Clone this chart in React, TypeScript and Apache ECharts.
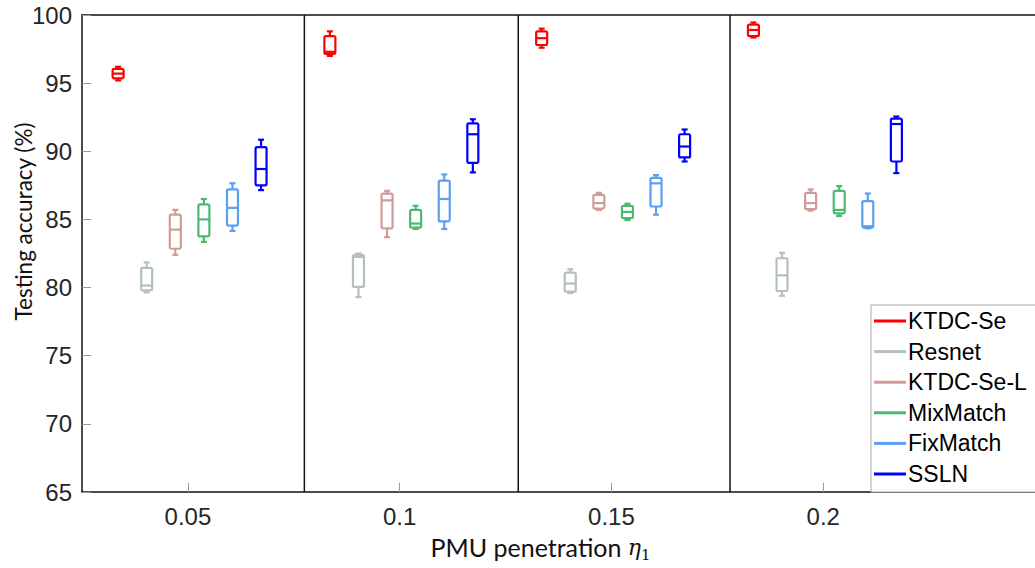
import React, { useEffect, useRef } from "react";
import * as echarts from "echarts";

// PMU penetration groups (x axis tick values)
const groups = [0.05, 0.1, 0.15, 0.2];
const yTicks = [65, 70, 75, 80, 85, 90, 95, 100];
const methods = ["KTDC-Se", "Resnet", "KTDC-Se-L", "MixMatch", "FixMatch", "SSLN"];
const colors = ["#ff0000", "#b3c1bd", "#cf9c9b", "#4cb870", "#5b9ff0", "#0000ff"];

// each entry: [min, q1, median, q3, max] per group
const ktdcSe = [
  [95.2, 95.35, 95.7, 96.05, 96.2],
  [97.0, 97.15, 97.3, 98.45, 98.8],
  [97.6, 97.8, 98.3, 98.8, 99.0],
  [98.35, 98.45, 98.9, 99.3, 99.45],
];
const resnet = [
  [79.65, 79.8, 80.15, 81.45, 81.85],
  [79.3, 80.05, 82.25, 82.4, 82.5],
  [79.6, 79.7, 80.3, 81.1, 81.35],
  [79.4, 79.75, 80.9, 82.15, 82.55],
];
const ktdcSeL = [
  [82.4, 82.85, 84.25, 85.35, 85.7],
  [83.7, 84.35, 86.4, 86.9, 87.1],
  [85.7, 85.8, 86.2, 86.8, 86.95],
  [85.65, 85.75, 86.2, 86.95, 87.2],
];
const mixMatch = [
  [83.35, 83.75, 85.0, 86.1, 86.5],
  [84.3, 84.4, 84.7, 85.7, 86.0],
  [84.95, 85.1, 85.55, 86.0, 86.15],
  [85.25, 85.45, 85.7, 87.1, 87.45],
];
const fixMatch = [
  [84.15, 84.55, 85.85, 87.2, 87.65],
  [84.3, 84.85, 86.5, 87.85, 88.3],
  [85.35, 85.95, 87.65, 88.05, 88.25],
  [84.35, 84.4, 84.5, 86.35, 86.9],
];
const ssln = [
  [87.15, 87.5, 88.7, 90.3, 90.85],
  [88.45, 89.15, 91.25, 92.05, 92.35],
  [89.25, 89.55, 90.35, 91.25, 91.6],
  [88.4, 89.25, 92.0, 92.4, 92.55],
];
const allStats = [ktdcSe, resnet, ktdcSeL, mixMatch, fixMatch, ssln];
// vertical separators between groups (x values)
const separators = [0.0775, 0.128, 0.178];

const X_MIN = 0.025;
const X_MAX = 0.25;
const Y_MIN = 65;
const Y_MAX = 100;

const slot = 0.00675; // spacing between methods within a group
const shift = 0.0004;

export default function App() {
  const ref = useRef<HTMLDivElement>(null);

  useEffect(() => {
    if (!ref.current) return;
    const chart = echarts.init(ref.current, undefined, { renderer: "svg" });

    const boxSeries = methods.map((name, i) => {
      const color = colors[i];
      const data = groups.map((g, j) => [g + (i - 2.5) * slot + shift, ...allStats[i][j]]);
      return {
        name,
        type: "custom",
        itemStyle: { color },
        data,
        encode: { x: 0, y: [1, 2, 3, 4, 5] },
        renderItem: (params: any, api: any) => {
          const x = api.value(0);
          const pMin = api.coord([x, api.value(1)]);
          const yQ1 = api.coord([x, api.value(2)])[1];
          const yMed = api.coord([x, api.value(3)])[1];
          const yQ3 = api.coord([x, api.value(4)])[1];
          const yMax = api.coord([x, api.value(5)])[1];
          const cx = pMin[0];
          const yMin = pMin[1];
          const hw = 5.5;
          const cw = 3;
          const lw = 2.2;
          const st = { stroke: color, lineWidth: lw, fill: "none" };
          return {
            type: "group",
            children: [
              { type: "line", shape: { x1: cx, y1: yMax, x2: cx, y2: yQ3 }, style: st },
              { type: "line", shape: { x1: cx, y1: yQ1, x2: cx, y2: yMin }, style: st },
              { type: "line", shape: { x1: cx - cw, y1: yMax, x2: cx + cw, y2: yMax }, style: st },
              { type: "line", shape: { x1: cx - cw, y1: yMin, x2: cx + cw, y2: yMin }, style: st },
              {
                type: "rect",
                shape: { x: cx - hw, y: yQ3, width: hw * 2, height: yQ1 - yQ3, r: 1.5 },
                style: st,
              },
              { type: "line", shape: { x1: cx - hw, y1: yMed, x2: cx + hw, y2: yMed }, style: st },
            ],
          };
        },
      };
    });

    const sepSeries = {
      name: "separators",
      type: "custom",
      silent: true,
      data: separators.map((s) => [s]),
      encode: { x: 0 },
      renderItem: (params: any, api: any) => {
        const x = api.value(0);
        const top = api.coord([x, Y_MAX]);
        const bottom = api.coord([x, Y_MIN]);
        return {
          type: "line",
          shape: { x1: top[0], y1: top[1], x2: bottom[0], y2: bottom[1] },
          style: { stroke: "#111", lineWidth: 1.5 },
        };
      },
    };

    const labelStyle = {
      fontFamily: "Liberation Sans",
      fontSize: 24,
      color: "#262626",
    };

    chart.setOption({
      animation: false,
      grid: {
        left: 82,
        right: 0,
        top: 15,
        bottom: 76,
        containLabel: false,
        outerBoundsMode: "none",
      },
      xAxis: [
        {
          type: "value",
          min: X_MIN,
          max: X_MAX,
          name: "{a|PMU penetration }{b|η}{c|1}",
          nameLocation: "middle",
          nameGap: 40,
          nameMoveOverlap: false,
          nameTextStyle: {
            padding: [0, 36, 0, 0],
            rich: {
              a: { fontFamily: "Lato", fontSize: 25, color: "#111", lineHeight: 30 },
              b: {
                fontFamily: "DejaVu Serif",
                fontStyle: "italic",
                fontSize: 22,
                color: "#111",
                lineHeight: 30,
              },
              c: {
                fontFamily: "DejaVu Serif",
                fontSize: 15,
                color: "#111",
                lineHeight: 17,
                verticalAlign: "bottom",
              },
            },
          },
          axisLine: { show: true, lineStyle: { color: "#111", width: 1.5 } },
          axisTick: {
            show: true,
            inside: true,
            length: 9,
            customValues: groups,
            lineStyle: { color: "#999", width: 1 },
          },
          axisLabel: {
            ...labelStyle,
            margin: 12,
            customValues: groups,
            formatter: (v: number) => String(v),
          },
          splitLine: { show: false },
        },
        {
          type: "value",
          position: "top",
          min: X_MIN,
          max: X_MAX,
          axisLine: { show: true, lineStyle: { color: "#111", width: 1.5 } },
          axisTick: { show: false },
          axisLabel: { show: false },
          splitLine: { show: false },
        },
      ],
      yAxis: {
        type: "value",
        min: Y_MIN,
        max: Y_MAX,
        interval: 5,
        name: "Testing accuracy (%)",
        nameLocation: "middle",
        nameGap: 47,
        nameMoveOverlap: false,
        nameTextStyle: {
          fontFamily: "Lato",
          fontSize: 22.5,
          color: "#111",
          padding: [0, 0, 0, 64],
        },
        axisLine: { show: true, lineStyle: { color: "#111", width: 1.5 } },
        axisTick: { show: true, inside: true, length: 9, lineStyle: { color: "#999", width: 1 } },
        axisLabel: {
          ...labelStyle,
          margin: 10,
          customValues: yTicks,
        },
        splitLine: { show: false },
      },
      legend: {
        data: methods,
        orient: "vertical",
        left: 871,
        top: 305,
        padding: [4, 12, 6, 3],
        itemGap: 6.6,
        itemWidth: 32,
        itemHeight: 3,
        icon: "rect",
        backgroundColor: "#fff",
        borderColor: "#aaa",
        borderWidth: 1,
        textStyle: {
          fontFamily: "Liberation Sans",
          fontSize: 23,
          lineHeight: 24,
          color: "#000",
          padding: [0, 0, 0, -3],
        },
      },
      series: [sepSeries, ...boxSeries],
    });

    return () => chart.dispose();
  }, []);

  return (
    <div
      ref={ref}
      style={{ position: "absolute", left: 0, top: 0, width: 1035, height: 568, background: "#fff" }}
    />
  );
}
